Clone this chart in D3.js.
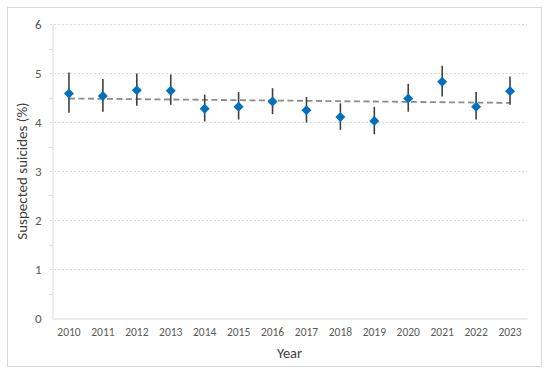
<!DOCTYPE html>
<html><head><meta charset="utf-8">
<script src="https://cdn.jsdelivr.net/npm/d3@7"></script>
<style>html,body{margin:0;padding:0;background:#fff;}svg{display:block;}</style>
</head><body>
<svg id="c" width="550" height="374"></svg>
<script>
const years = ["2010","2011","2012","2013","2014","2015","2016","2017","2018","2019","2020","2021","2022","2023"];
const values = [4.58,4.53,4.65,4.64,4.27,4.31,4.42,4.24,4.10,4.02,4.48,4.82,4.31,4.63];
const upper  = [5.01,4.88,4.99,4.97,4.56,4.61,4.69,4.51,4.38,4.31,4.78,5.15,4.61,4.93];
const lower  = [4.19,4.21,4.33,4.35,4.01,4.05,4.16,3.99,3.84,3.75,4.21,4.52,4.05,4.35];
const trendYears = ["2010","2023"];
const trendValues = [4.48,4.39];
const yTicks = [0,1,2,3,4,5,6];
const yMinorTicks = [0.5,1.5,2.5,3.5,4.5,5.5];

const svg = d3.select("#c");
const font = "Calibri, Carlito, Lato, 'Open Sans', sans-serif";
const m = {l:52, r:527, t:24, b:318};

svg.append("rect").attr("x",7.5).attr("y",7.5).attr("width",534).attr("height",359)
  .attr("fill","#fff").attr("stroke","#d9d9d9").attr("stroke-width",1);

const x = d3.scaleBand().domain(years).range([m.l,m.r]);
const y = d3.scaleLinear().domain([0,6]).range([m.b,m.t]);

// gridlines
svg.append("g").selectAll("line").data(yTicks.filter(d=>d>0)).join("line")
  .attr("x1",m.l-2).attr("x2",m.r).attr("y1",d=>Math.round(y(d))+0.5).attr("y2",d=>Math.round(y(d))+0.5)
  .attr("stroke","#d9d9d9").attr("stroke-width",1).attr("stroke-dasharray","2,2");

// y axis
const yAxis = d3.axisLeft(y).tickValues(yTicks).tickSize(0).tickPadding(11).tickFormat(d3.format("d"));
const gy = svg.append("g").attr("transform",`translate(${m.l+0.5},0)`).call(yAxis);
gy.select(".domain").attr("stroke","#d9d9d9");
gy.selectAll("text").attr("font-family",font).attr("font-size",13).attr("fill","#595959");
svg.append("g").selectAll("line").data(yMinorTicks).join("line")
  .attr("x1",m.l-3).attr("x2",m.l).attr("y1",d=>Math.round(y(d))+0.5).attr("y2",d=>Math.round(y(d))+0.5)
  .attr("stroke","#d9d9d9");

// x axis
const xAxis = d3.axisBottom(x).tickSize(0).tickPadding(9);
const gx = svg.append("g").attr("transform",`translate(0,${m.b+0.5})`).call(xAxis);
gx.select(".domain").attr("stroke","#d9d9d9");
gx.selectAll("text").attr("font-family",font).attr("font-size",11.5).attr("fill","#595959");

// trend line
const cx = d => x(d)+x.bandwidth()/2;
svg.append("line")
  .attr("x1",cx(trendYears[0])).attr("x2",cx(trendYears[1]))
  .attr("y1",y(trendValues[0])).attr("y2",y(trendValues[1]))
  .attr("stroke","#8c8c8c").attr("stroke-width",1.8).attr("stroke-dasharray","6,3.5");

// error bars
svg.append("g").selectAll("line").data(years).join("line")
  .attr("x1",d=>cx(d)).attr("x2",d=>cx(d))
  .attr("y1",(d,i)=>y(upper[i])).attr("y2",(d,i)=>y(lower[i]))
  .attr("stroke","#404040").attr("stroke-width",1.6);

// markers
svg.append("g").selectAll("path").data(years).join("path")
  .attr("d",d3.symbol().type(d3.symbolDiamond2).size(64))
  .attr("transform",(d,i)=>`translate(${cx(d)},${y(values[i])})`)
  .attr("fill","#0070c0");

// titles
svg.append("text").attr("x",(m.l+m.r)/2).attr("y",358).attr("text-anchor","middle")
  .attr("font-family",font).attr("font-size",14.5).attr("fill","#404040").text("Year");
svg.append("text").attr("transform",`translate(27,${(m.t+m.b)/2}) rotate(-90)`).attr("text-anchor","middle")
  .attr("font-family",font).attr("font-size",15).attr("fill","#404040").text("Suspected suicides (%)");
</script>
</body></html>
